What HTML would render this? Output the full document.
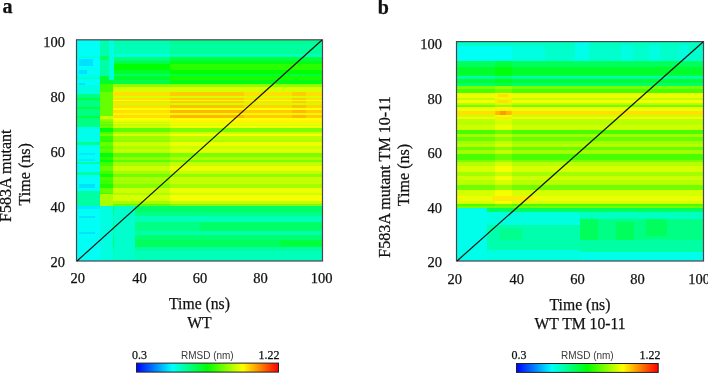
<!DOCTYPE html>
<html><head><meta charset="utf-8">
<style>
html,body{margin:0;padding:0;background:#fff;width:708px;height:374px;overflow:hidden;}
svg{display:block;}
.s{font-family:"Liberation Serif",serif;fill:#111;stroke:#111;stroke-width:0.25px;}
.txt{will-change:transform;}
.ss{font-family:"Liberation Sans",sans-serif;fill:#3a3a3a;}
</style></head><body>
<svg width="708" height="374" viewBox="0 0 708 374">
<defs>
<linearGradient id="cb" x1="0" x2="1" y1="0" y2="0"><stop offset="0.000" stop-color="#0000ff"/><stop offset="0.125" stop-color="#0080ff"/><stop offset="0.250" stop-color="#00ffff"/><stop offset="0.375" stop-color="#00ff80"/><stop offset="0.500" stop-color="#00ff00"/><stop offset="0.625" stop-color="#80ff00"/><stop offset="0.750" stop-color="#ffff00"/><stop offset="0.875" stop-color="#ff8000"/><stop offset="1.000" stop-color="#ff0000"/></linearGradient>
<filter id="bl" x="0" y="0" width="1" height="1"><feGaussianBlur stdDeviation="0.6"/></filter>
<clipPath id="cl"><rect x="77" y="40" width="245" height="221"/></clipPath>
<clipPath id="cr"><rect x="457" y="42" width="246" height="219"/></clipPath>
</defs>
<g clip-path="url(#cl)"><g filter="url(#bl)" shape-rendering="crispEdges">
<rect x="77" y="40" width="23" height="4" fill="#00fff5"/>
<rect x="100" y="40" width="9" height="4" fill="#00ffad"/>
<rect x="109" y="40" width="5" height="4" fill="#00ffe0"/>
<rect x="114" y="40" width="56" height="4" fill="#00ffad"/>
<rect x="170" y="40" width="152" height="4" fill="#00ff8f"/>
<rect x="77" y="44" width="23" height="5" fill="#00fff5"/>
<rect x="100" y="44" width="9" height="5" fill="#00ffad"/>
<rect x="109" y="44" width="5" height="5" fill="#00ffe0"/>
<rect x="114" y="44" width="56" height="5" fill="#00ffb8"/>
<rect x="170" y="44" width="152" height="5" fill="#00ffa3"/>
<rect x="77" y="49" width="23" height="5" fill="#00fff5"/>
<rect x="100" y="49" width="9" height="5" fill="#00ffad"/>
<rect x="109" y="49" width="5" height="5" fill="#00ffe0"/>
<rect x="114" y="49" width="56" height="5" fill="#00ffb8"/>
<rect x="170" y="49" width="152" height="5" fill="#00ff99"/>
<rect x="77" y="54" width="23" height="2" fill="#00fff5"/>
<rect x="100" y="54" width="9" height="2" fill="#00ffad"/>
<rect x="109" y="54" width="61" height="2" fill="#00ffe0"/>
<rect x="170" y="54" width="152" height="2" fill="#00ffc2"/>
<rect x="77" y="56" width="23" height="1" fill="#00fff5"/>
<rect x="100" y="56" width="9" height="1" fill="#00ff66"/>
<rect x="109" y="56" width="61" height="1" fill="#00ffe0"/>
<rect x="170" y="56" width="152" height="1" fill="#00ffc2"/>
<rect x="77" y="57" width="23" height="1" fill="#00ffcc"/>
<rect x="100" y="57" width="9" height="1" fill="#00ff66"/>
<rect x="109" y="57" width="5" height="1" fill="#00ffe0"/>
<rect x="114" y="57" width="56" height="1" fill="#00ff7a"/>
<rect x="170" y="57" width="152" height="1" fill="#00ff3d"/>
<rect x="77" y="58" width="23" height="1" fill="#00ffff"/>
<rect x="100" y="58" width="9" height="1" fill="#00ff66"/>
<rect x="109" y="58" width="5" height="1" fill="#00ffe0"/>
<rect x="114" y="58" width="56" height="1" fill="#00ff7a"/>
<rect x="170" y="58" width="152" height="1" fill="#00ff3d"/>
<rect x="77" y="59" width="2" height="1" fill="#00ffff"/>
<rect x="79" y="59" width="14" height="1" fill="#00e0ff"/>
<rect x="93" y="59" width="7" height="1" fill="#00ffff"/>
<rect x="100" y="59" width="9" height="1" fill="#00ff66"/>
<rect x="109" y="59" width="5" height="1" fill="#00ffe0"/>
<rect x="114" y="59" width="56" height="1" fill="#00ff7a"/>
<rect x="170" y="59" width="152" height="1" fill="#00ff3d"/>
<rect x="77" y="60" width="2" height="1" fill="#00ffff"/>
<rect x="79" y="60" width="14" height="1" fill="#00e0ff"/>
<rect x="93" y="60" width="7" height="1" fill="#00ffff"/>
<rect x="100" y="60" width="9" height="1" fill="#00ffa3"/>
<rect x="109" y="60" width="5" height="1" fill="#00ffe0"/>
<rect x="114" y="60" width="56" height="1" fill="#00ff7a"/>
<rect x="170" y="60" width="152" height="1" fill="#00ff3d"/>
<rect x="77" y="61" width="2" height="3" fill="#00ffff"/>
<rect x="79" y="61" width="14" height="3" fill="#00e0ff"/>
<rect x="93" y="61" width="7" height="3" fill="#00ffff"/>
<rect x="100" y="61" width="9" height="3" fill="#00ffa3"/>
<rect x="109" y="61" width="5" height="3" fill="#00ffe0"/>
<rect x="114" y="61" width="56" height="3" fill="#00ff47"/>
<rect x="170" y="61" width="152" height="3" fill="#00ff14"/>
<rect x="77" y="64" width="2" height="2" fill="#00ffff"/>
<rect x="79" y="64" width="14" height="2" fill="#00e0ff"/>
<rect x="93" y="64" width="7" height="2" fill="#00ffff"/>
<rect x="100" y="64" width="9" height="2" fill="#00ffa3"/>
<rect x="109" y="64" width="5" height="2" fill="#00ffe0"/>
<rect x="114" y="64" width="56" height="2" fill="#00ff00"/>
<rect x="170" y="64" width="152" height="2" fill="#29ff00"/>
<rect x="77" y="66" width="23" height="1" fill="#00ffff"/>
<rect x="100" y="66" width="9" height="1" fill="#00ffa3"/>
<rect x="109" y="66" width="5" height="1" fill="#00ffe0"/>
<rect x="114" y="66" width="56" height="1" fill="#00ff00"/>
<rect x="170" y="66" width="152" height="1" fill="#29ff00"/>
<rect x="77" y="67" width="23" height="3" fill="#00fff5"/>
<rect x="100" y="67" width="9" height="3" fill="#00ffa3"/>
<rect x="109" y="67" width="5" height="3" fill="#00ffe0"/>
<rect x="114" y="67" width="56" height="3" fill="#00ff00"/>
<rect x="170" y="67" width="152" height="3" fill="#29ff00"/>
<rect x="77" y="70" width="2" height="4" fill="#00fff5"/>
<rect x="79" y="70" width="8" height="4" fill="#00e0ff"/>
<rect x="87" y="70" width="13" height="4" fill="#00fff5"/>
<rect x="100" y="70" width="9" height="4" fill="#00ffa3"/>
<rect x="109" y="70" width="5" height="4" fill="#00ffe0"/>
<rect x="114" y="70" width="56" height="4" fill="#00ff29"/>
<rect x="170" y="70" width="152" height="4" fill="#00ff00"/>
<rect x="77" y="74" width="23" height="2" fill="#00ffeb"/>
<rect x="100" y="74" width="9" height="2" fill="#00ffa3"/>
<rect x="109" y="74" width="5" height="2" fill="#00ffe0"/>
<rect x="114" y="74" width="56" height="2" fill="#00ff66"/>
<rect x="170" y="74" width="152" height="2" fill="#00ff3d"/>
<rect x="77" y="76" width="23" height="2" fill="#00ffeb"/>
<rect x="100" y="76" width="9" height="2" fill="#00ff29"/>
<rect x="109" y="76" width="5" height="2" fill="#00ffe0"/>
<rect x="114" y="76" width="56" height="2" fill="#00ff29"/>
<rect x="170" y="76" width="152" height="2" fill="#14ff00"/>
<rect x="77" y="78" width="23" height="1" fill="#00ffb8"/>
<rect x="100" y="78" width="9" height="1" fill="#00ff29"/>
<rect x="109" y="78" width="5" height="1" fill="#00ffe0"/>
<rect x="114" y="78" width="56" height="1" fill="#00ff29"/>
<rect x="170" y="78" width="152" height="1" fill="#14ff00"/>
<rect x="77" y="79" width="23" height="1" fill="#00fff5"/>
<rect x="100" y="79" width="9" height="1" fill="#00ff29"/>
<rect x="109" y="79" width="5" height="1" fill="#00ffe0"/>
<rect x="114" y="79" width="56" height="1" fill="#00ff29"/>
<rect x="170" y="79" width="152" height="1" fill="#14ff00"/>
<rect x="77" y="80" width="23" height="3" fill="#00fff5"/>
<rect x="100" y="80" width="13" height="3" fill="#00ff29"/>
<rect x="113" y="80" width="57" height="3" fill="#00ff47"/>
<rect x="170" y="80" width="152" height="3" fill="#00ff14"/>
<rect x="77" y="83" width="2" height="1" fill="#00fff5"/>
<rect x="79" y="83" width="6" height="1" fill="#00e0ff"/>
<rect x="85" y="83" width="15" height="1" fill="#00fff5"/>
<rect x="100" y="83" width="13" height="1" fill="#00ff29"/>
<rect x="113" y="83" width="57" height="1" fill="#00ff47"/>
<rect x="170" y="83" width="152" height="1" fill="#00ff14"/>
<rect x="77" y="84" width="2" height="1" fill="#00fff5"/>
<rect x="79" y="84" width="6" height="1" fill="#00e0ff"/>
<rect x="85" y="84" width="15" height="1" fill="#00fff5"/>
<rect x="100" y="84" width="13" height="1" fill="#3dff00"/>
<rect x="113" y="84" width="209" height="1" fill="#8fff00"/>
<rect x="77" y="85" width="23" height="2" fill="#00ffe0"/>
<rect x="100" y="85" width="13" height="2" fill="#3dff00"/>
<rect x="113" y="85" width="209" height="2" fill="#8fff00"/>
<rect x="77" y="87" width="23" height="5" fill="#00ffe0"/>
<rect x="100" y="87" width="13" height="5" fill="#3dff00"/>
<rect x="113" y="87" width="209" height="5" fill="#d6ff00"/>
<rect x="77" y="92" width="23" height="2" fill="#00ffe0"/>
<rect x="100" y="92" width="13" height="2" fill="#66ff00"/>
<rect x="113" y="92" width="57" height="2" fill="#ffe000"/>
<rect x="170" y="92" width="74" height="2" fill="#ffcc00"/>
<rect x="244" y="92" width="48" height="2" fill="#ffe000"/>
<rect x="292" y="92" width="14" height="2" fill="#ffcc00"/>
<rect x="306" y="92" width="16" height="2" fill="#ffe000"/>
<rect x="77" y="94" width="23" height="2" fill="#00ff85"/>
<rect x="100" y="94" width="13" height="2" fill="#66ff00"/>
<rect x="113" y="94" width="57" height="2" fill="#ffe000"/>
<rect x="170" y="94" width="74" height="2" fill="#ffcc00"/>
<rect x="244" y="94" width="48" height="2" fill="#ffe000"/>
<rect x="292" y="94" width="14" height="2" fill="#ffcc00"/>
<rect x="306" y="94" width="16" height="2" fill="#ffe000"/>
<rect x="77" y="96" width="23" height="2" fill="#00ff85"/>
<rect x="100" y="96" width="13" height="2" fill="#66ff00"/>
<rect x="113" y="96" width="209" height="2" fill="#d6ff00"/>
<rect x="77" y="98" width="23" height="2" fill="#00ff3d"/>
<rect x="100" y="98" width="13" height="2" fill="#66ff00"/>
<rect x="113" y="98" width="57" height="2" fill="#ffe000"/>
<rect x="170" y="98" width="74" height="2" fill="#ffcc00"/>
<rect x="244" y="98" width="48" height="2" fill="#ffe000"/>
<rect x="292" y="98" width="14" height="2" fill="#ffcc00"/>
<rect x="306" y="98" width="16" height="2" fill="#ffe000"/>
<rect x="77" y="100" width="23" height="1" fill="#00ff85"/>
<rect x="100" y="100" width="13" height="1" fill="#66ff00"/>
<rect x="113" y="100" width="209" height="1" fill="#ffff00"/>
<rect x="77" y="101" width="23" height="2" fill="#00ff85"/>
<rect x="100" y="101" width="13" height="2" fill="#66ff00"/>
<rect x="113" y="101" width="57" height="2" fill="#ffe000"/>
<rect x="170" y="101" width="74" height="2" fill="#ffcc00"/>
<rect x="244" y="101" width="48" height="2" fill="#ffe000"/>
<rect x="292" y="101" width="14" height="2" fill="#ffcc00"/>
<rect x="306" y="101" width="16" height="2" fill="#ffe000"/>
<rect x="77" y="103" width="23" height="2" fill="#00ff85"/>
<rect x="100" y="103" width="13" height="2" fill="#66ff00"/>
<rect x="113" y="103" width="209" height="2" fill="#ccff00"/>
<rect x="77" y="105" width="23" height="2" fill="#00ff85"/>
<rect x="100" y="105" width="13" height="2" fill="#66ff00"/>
<rect x="113" y="105" width="57" height="2" fill="#ffe000"/>
<rect x="170" y="105" width="74" height="2" fill="#ffc200"/>
<rect x="244" y="105" width="48" height="2" fill="#ffd600"/>
<rect x="292" y="105" width="14" height="2" fill="#ffc200"/>
<rect x="306" y="105" width="16" height="2" fill="#ffd600"/>
<rect x="77" y="107" width="23" height="1" fill="#00ff3d"/>
<rect x="100" y="107" width="13" height="1" fill="#66ff00"/>
<rect x="113" y="107" width="57" height="1" fill="#ffe000"/>
<rect x="170" y="107" width="74" height="1" fill="#ffc200"/>
<rect x="244" y="107" width="48" height="1" fill="#ffd600"/>
<rect x="292" y="107" width="14" height="1" fill="#ffc200"/>
<rect x="306" y="107" width="16" height="1" fill="#ffd600"/>
<rect x="77" y="108" width="23" height="1" fill="#00ff3d"/>
<rect x="100" y="108" width="13" height="1" fill="#66ff00"/>
<rect x="113" y="108" width="209" height="1" fill="#ffff00"/>
<rect x="77" y="109" width="23" height="1" fill="#00ff85"/>
<rect x="100" y="109" width="13" height="1" fill="#66ff00"/>
<rect x="113" y="109" width="209" height="1" fill="#ffff00"/>
<rect x="77" y="110" width="23" height="3" fill="#00ff85"/>
<rect x="100" y="110" width="13" height="3" fill="#66ff00"/>
<rect x="113" y="110" width="57" height="3" fill="#ffe000"/>
<rect x="170" y="110" width="74" height="3" fill="#ffb800"/>
<rect x="244" y="110" width="48" height="3" fill="#ffcc00"/>
<rect x="292" y="110" width="14" height="3" fill="#ffb800"/>
<rect x="306" y="110" width="16" height="3" fill="#ffcc00"/>
<rect x="77" y="113" width="23" height="2" fill="#00ff85"/>
<rect x="100" y="113" width="13" height="2" fill="#66ff00"/>
<rect x="113" y="113" width="209" height="2" fill="#fff500"/>
<rect x="77" y="115" width="23" height="1" fill="#00ff85"/>
<rect x="100" y="115" width="13" height="1" fill="#66ff00"/>
<rect x="113" y="115" width="57" height="1" fill="#ffe000"/>
<rect x="170" y="115" width="74" height="1" fill="#ffb800"/>
<rect x="244" y="115" width="48" height="1" fill="#ffcc00"/>
<rect x="292" y="115" width="14" height="1" fill="#ffb800"/>
<rect x="306" y="115" width="16" height="1" fill="#ffcc00"/>
<rect x="77" y="116" width="23" height="2" fill="#00ff3d"/>
<rect x="100" y="116" width="13" height="2" fill="#ccff00"/>
<rect x="113" y="116" width="57" height="2" fill="#ffe000"/>
<rect x="170" y="116" width="74" height="2" fill="#ffb800"/>
<rect x="244" y="116" width="48" height="2" fill="#ffcc00"/>
<rect x="292" y="116" width="14" height="2" fill="#ffb800"/>
<rect x="306" y="116" width="16" height="2" fill="#ffcc00"/>
<rect x="77" y="118" width="23" height="1" fill="#00ff85"/>
<rect x="100" y="118" width="13" height="1" fill="#ccff00"/>
<rect x="113" y="118" width="209" height="1" fill="#ffff00"/>
<rect x="77" y="119" width="23" height="1" fill="#00ff85"/>
<rect x="100" y="119" width="13" height="1" fill="#99ff00"/>
<rect x="113" y="119" width="209" height="1" fill="#ffff00"/>
<rect x="77" y="120" width="23" height="2" fill="#00ff85"/>
<rect x="100" y="120" width="13" height="2" fill="#85ff00"/>
<rect x="113" y="120" width="57" height="2" fill="#ebff00"/>
<rect x="170" y="120" width="152" height="2" fill="#fff500"/>
<rect x="77" y="122" width="23" height="1" fill="#00ff85"/>
<rect x="100" y="122" width="13" height="1" fill="#5cff00"/>
<rect x="113" y="122" width="57" height="1" fill="#c2ff00"/>
<rect x="170" y="122" width="152" height="1" fill="#e0ff00"/>
<rect x="77" y="123" width="23" height="1" fill="#00ff85"/>
<rect x="100" y="123" width="13" height="1" fill="#85ff00"/>
<rect x="113" y="123" width="57" height="1" fill="#ebff00"/>
<rect x="170" y="123" width="152" height="1" fill="#fff500"/>
<rect x="77" y="124" width="23" height="2" fill="#00ff85"/>
<rect x="100" y="124" width="13" height="2" fill="#5cff00"/>
<rect x="113" y="124" width="57" height="2" fill="#c2ff00"/>
<rect x="170" y="124" width="152" height="2" fill="#e0ff00"/>
<rect x="77" y="126" width="23" height="1" fill="#00ff85"/>
<rect x="100" y="126" width="13" height="1" fill="#70ff00"/>
<rect x="113" y="126" width="57" height="1" fill="#d6ff00"/>
<rect x="170" y="126" width="152" height="1" fill="#f5ff00"/>
<rect x="77" y="127" width="23" height="1" fill="#00ffeb"/>
<rect x="100" y="127" width="13" height="1" fill="#70ff00"/>
<rect x="113" y="127" width="57" height="1" fill="#d6ff00"/>
<rect x="170" y="127" width="152" height="1" fill="#f5ff00"/>
<rect x="77" y="128" width="23" height="4" fill="#00ffeb"/>
<rect x="100" y="128" width="13" height="4" fill="#00ff0a"/>
<rect x="113" y="128" width="57" height="4" fill="#5cff00"/>
<rect x="170" y="128" width="152" height="4" fill="#7aff00"/>
<rect x="77" y="132" width="23" height="2" fill="#00ffeb"/>
<rect x="100" y="132" width="13" height="2" fill="#47ff00"/>
<rect x="113" y="132" width="57" height="2" fill="#adff00"/>
<rect x="170" y="132" width="152" height="2" fill="#ccff00"/>
<rect x="77" y="134" width="23" height="2" fill="#00ffeb"/>
<rect x="100" y="134" width="13" height="2" fill="#70ff00"/>
<rect x="113" y="134" width="57" height="2" fill="#d6ff00"/>
<rect x="170" y="134" width="152" height="2" fill="#f5ff00"/>
<rect x="77" y="136" width="23" height="4" fill="#00ffeb"/>
<rect x="100" y="136" width="13" height="4" fill="#33ff00"/>
<rect x="113" y="136" width="57" height="4" fill="#99ff00"/>
<rect x="170" y="136" width="152" height="4" fill="#b8ff00"/>
<rect x="77" y="140" width="23" height="2" fill="#00ffeb"/>
<rect x="100" y="140" width="13" height="2" fill="#29ff00"/>
<rect x="113" y="140" width="57" height="2" fill="#8fff00"/>
<rect x="170" y="140" width="152" height="2" fill="#adff00"/>
<rect x="77" y="142" width="23" height="3" fill="#00ff8f"/>
<rect x="100" y="142" width="13" height="3" fill="#66ff00"/>
<rect x="113" y="142" width="57" height="3" fill="#ccff00"/>
<rect x="170" y="142" width="152" height="3" fill="#ebff00"/>
<rect x="77" y="145" width="23" height="1" fill="#00fff5"/>
<rect x="100" y="145" width="13" height="1" fill="#66ff00"/>
<rect x="113" y="145" width="57" height="1" fill="#ccff00"/>
<rect x="170" y="145" width="152" height="1" fill="#ebff00"/>
<rect x="77" y="146" width="23" height="3" fill="#00fff5"/>
<rect x="100" y="146" width="13" height="3" fill="#47ff00"/>
<rect x="113" y="146" width="57" height="3" fill="#adff00"/>
<rect x="170" y="146" width="152" height="3" fill="#ccff00"/>
<rect x="77" y="149" width="23" height="4" fill="#00fff5"/>
<rect x="100" y="149" width="13" height="4" fill="#5cff00"/>
<rect x="113" y="149" width="57" height="4" fill="#c2ff00"/>
<rect x="170" y="149" width="152" height="4" fill="#e0ff00"/>
<rect x="77" y="153" width="2" height="2" fill="#00fff5"/>
<rect x="79" y="153" width="16" height="2" fill="#00ebff"/>
<rect x="95" y="153" width="5" height="2" fill="#00fff5"/>
<rect x="100" y="153" width="13" height="2" fill="#00ff0a"/>
<rect x="113" y="153" width="57" height="2" fill="#5cff00"/>
<rect x="170" y="153" width="152" height="2" fill="#7aff00"/>
<rect x="77" y="155" width="23" height="2" fill="#00fff5"/>
<rect x="100" y="155" width="13" height="2" fill="#00ff0a"/>
<rect x="113" y="155" width="57" height="2" fill="#5cff00"/>
<rect x="170" y="155" width="152" height="2" fill="#7aff00"/>
<rect x="77" y="157" width="23" height="2" fill="#00fff5"/>
<rect x="100" y="157" width="13" height="2" fill="#29ff00"/>
<rect x="113" y="157" width="57" height="2" fill="#8fff00"/>
<rect x="170" y="157" width="152" height="2" fill="#adff00"/>
<rect x="77" y="159" width="2" height="1" fill="#00fff5"/>
<rect x="79" y="159" width="16" height="1" fill="#00ebff"/>
<rect x="95" y="159" width="5" height="1" fill="#00fff5"/>
<rect x="100" y="159" width="13" height="1" fill="#29ff00"/>
<rect x="113" y="159" width="57" height="1" fill="#8fff00"/>
<rect x="170" y="159" width="152" height="1" fill="#adff00"/>
<rect x="77" y="160" width="2" height="1" fill="#00fff5"/>
<rect x="79" y="160" width="16" height="1" fill="#00ebff"/>
<rect x="95" y="160" width="5" height="1" fill="#00fff5"/>
<rect x="100" y="160" width="13" height="1" fill="#00ff0a"/>
<rect x="113" y="160" width="57" height="1" fill="#5cff00"/>
<rect x="170" y="160" width="152" height="1" fill="#7aff00"/>
<rect x="77" y="161" width="23" height="1" fill="#00fff5"/>
<rect x="100" y="161" width="13" height="1" fill="#00ff0a"/>
<rect x="113" y="161" width="57" height="1" fill="#5cff00"/>
<rect x="170" y="161" width="152" height="1" fill="#7aff00"/>
<rect x="77" y="162" width="23" height="2" fill="#00ffa3"/>
<rect x="100" y="162" width="13" height="2" fill="#3dff00"/>
<rect x="113" y="162" width="57" height="2" fill="#a3ff00"/>
<rect x="170" y="162" width="152" height="2" fill="#c2ff00"/>
<rect x="77" y="164" width="23" height="2" fill="#00fff5"/>
<rect x="100" y="164" width="13" height="2" fill="#3dff00"/>
<rect x="113" y="164" width="57" height="2" fill="#a3ff00"/>
<rect x="170" y="164" width="152" height="2" fill="#c2ff00"/>
<rect x="77" y="166" width="23" height="5" fill="#00fff5"/>
<rect x="100" y="166" width="13" height="5" fill="#66ff00"/>
<rect x="113" y="166" width="57" height="5" fill="#ccff00"/>
<rect x="170" y="166" width="152" height="5" fill="#ebff00"/>
<rect x="77" y="171" width="23" height="1" fill="#00fff5"/>
<rect x="100" y="171" width="13" height="1" fill="#3dff00"/>
<rect x="113" y="171" width="57" height="1" fill="#a3ff00"/>
<rect x="170" y="171" width="152" height="1" fill="#c2ff00"/>
<rect x="77" y="172" width="23" height="2" fill="#00ffa3"/>
<rect x="100" y="172" width="13" height="2" fill="#3dff00"/>
<rect x="113" y="172" width="57" height="2" fill="#a3ff00"/>
<rect x="170" y="172" width="152" height="2" fill="#c2ff00"/>
<rect x="77" y="174" width="23" height="1" fill="#00ffa3"/>
<rect x="100" y="174" width="13" height="1" fill="#0aff00"/>
<rect x="113" y="174" width="57" height="1" fill="#70ff00"/>
<rect x="170" y="174" width="152" height="1" fill="#8fff00"/>
<rect x="77" y="175" width="23" height="2" fill="#00fff5"/>
<rect x="100" y="175" width="13" height="2" fill="#0aff00"/>
<rect x="113" y="175" width="57" height="2" fill="#70ff00"/>
<rect x="170" y="175" width="152" height="2" fill="#8fff00"/>
<rect x="77" y="177" width="23" height="3" fill="#00fff5"/>
<rect x="100" y="177" width="13" height="3" fill="#47ff00"/>
<rect x="113" y="177" width="57" height="3" fill="#adff00"/>
<rect x="170" y="177" width="152" height="3" fill="#ccff00"/>
<rect x="77" y="180" width="23" height="4" fill="#00fff5"/>
<rect x="100" y="180" width="13" height="4" fill="#3dff00"/>
<rect x="113" y="180" width="57" height="4" fill="#a3ff00"/>
<rect x="170" y="180" width="152" height="4" fill="#c2ff00"/>
<rect x="77" y="184" width="2" height="4" fill="#00fff5"/>
<rect x="79" y="184" width="16" height="4" fill="#00e0ff"/>
<rect x="95" y="184" width="5" height="4" fill="#00fff5"/>
<rect x="100" y="184" width="13" height="4" fill="#1fff00"/>
<rect x="113" y="184" width="57" height="4" fill="#85ff00"/>
<rect x="170" y="184" width="152" height="4" fill="#a3ff00"/>
<rect x="77" y="188" width="23" height="3" fill="#00fff5"/>
<rect x="100" y="188" width="13" height="3" fill="#66ff00"/>
<rect x="113" y="188" width="57" height="3" fill="#ccff00"/>
<rect x="170" y="188" width="152" height="3" fill="#ebff00"/>
<rect x="77" y="191" width="23" height="2" fill="#00ffa3"/>
<rect x="100" y="191" width="13" height="2" fill="#66ff00"/>
<rect x="113" y="191" width="57" height="2" fill="#ccff00"/>
<rect x="170" y="191" width="152" height="2" fill="#ebff00"/>
<rect x="77" y="193" width="23" height="1" fill="#00ffa3"/>
<rect x="100" y="193" width="13" height="1" fill="#47ff00"/>
<rect x="113" y="193" width="57" height="1" fill="#adff00"/>
<rect x="170" y="193" width="152" height="1" fill="#ccff00"/>
<rect x="77" y="194" width="23" height="1" fill="#00ffa3"/>
<rect x="100" y="194" width="70" height="1" fill="#adff00"/>
<rect x="170" y="194" width="152" height="1" fill="#ccff00"/>
<rect x="77" y="195" width="23" height="6" fill="#00ffa3"/>
<rect x="100" y="195" width="13" height="6" fill="#adff00"/>
<rect x="113" y="195" width="57" height="6" fill="#d6ff00"/>
<rect x="170" y="195" width="152" height="6" fill="#f5ff00"/>
<rect x="77" y="201" width="23" height="3" fill="#00ffa3"/>
<rect x="100" y="201" width="13" height="3" fill="#adff00"/>
<rect x="113" y="201" width="57" height="3" fill="#a3ff00"/>
<rect x="170" y="201" width="152" height="3" fill="#c2ff00"/>
<rect x="77" y="204" width="23" height="1" fill="#00ffa3"/>
<rect x="100" y="204" width="13" height="1" fill="#adff00"/>
<rect x="113" y="204" width="57" height="1" fill="#52ff00"/>
<rect x="170" y="204" width="152" height="1" fill="#70ff00"/>
<rect x="77" y="205" width="23" height="1" fill="#00ffa3"/>
<rect x="100" y="205" width="13" height="1" fill="#adff00"/>
<rect x="113" y="205" width="57" height="1" fill="#7aff00"/>
<rect x="170" y="205" width="152" height="1" fill="#99ff00"/>
<rect x="77" y="206" width="23" height="3" fill="#00ebff"/>
<rect x="100" y="206" width="13" height="3" fill="#00ffe0"/>
<rect x="113" y="206" width="1" height="3" fill="#00ff66"/>
<rect x="114" y="206" width="21" height="3" fill="#00ffcc"/>
<rect x="135" y="206" width="187" height="3" fill="#00ff66"/>
<rect x="77" y="209" width="23" height="3" fill="#00fff5"/>
<rect x="100" y="209" width="13" height="3" fill="#00ffe0"/>
<rect x="113" y="209" width="1" height="3" fill="#00ff66"/>
<rect x="114" y="209" width="21" height="3" fill="#00ffcc"/>
<rect x="135" y="209" width="187" height="3" fill="#00ff66"/>
<rect x="77" y="212" width="23" height="4" fill="#00fff5"/>
<rect x="100" y="212" width="13" height="4" fill="#00ffe0"/>
<rect x="113" y="212" width="1" height="4" fill="#00ff85"/>
<rect x="114" y="212" width="21" height="4" fill="#00ffcc"/>
<rect x="135" y="212" width="187" height="4" fill="#00ff85"/>
<rect x="77" y="216" width="2" height="2" fill="#00fff5"/>
<rect x="79" y="216" width="16" height="2" fill="#00e0ff"/>
<rect x="95" y="216" width="5" height="2" fill="#00fff5"/>
<rect x="100" y="216" width="13" height="2" fill="#00ffe0"/>
<rect x="113" y="216" width="1" height="2" fill="#00ffb8"/>
<rect x="114" y="216" width="21" height="2" fill="#00ffcc"/>
<rect x="135" y="216" width="187" height="2" fill="#00ffb8"/>
<rect x="77" y="218" width="23" height="4" fill="#00fff5"/>
<rect x="100" y="218" width="13" height="4" fill="#00ffe0"/>
<rect x="113" y="218" width="1" height="4" fill="#00ffb8"/>
<rect x="114" y="218" width="21" height="4" fill="#00ffcc"/>
<rect x="135" y="218" width="187" height="4" fill="#00ffb8"/>
<rect x="77" y="222" width="23" height="9" fill="#00fff5"/>
<rect x="100" y="222" width="13" height="9" fill="#00ffe0"/>
<rect x="113" y="222" width="1" height="9" fill="#00ff85"/>
<rect x="114" y="222" width="21" height="9" fill="#00ffcc"/>
<rect x="135" y="222" width="65" height="9" fill="#00ff85"/>
<rect x="200" y="222" width="122" height="9" fill="#00ff66"/>
<rect x="77" y="231" width="23" height="1" fill="#00fff5"/>
<rect x="100" y="231" width="13" height="1" fill="#00ffe0"/>
<rect x="113" y="231" width="1" height="1" fill="#00ffad"/>
<rect x="114" y="231" width="21" height="1" fill="#00ffcc"/>
<rect x="135" y="231" width="187" height="1" fill="#00ffad"/>
<rect x="77" y="232" width="2" height="2" fill="#00fff5"/>
<rect x="79" y="232" width="16" height="2" fill="#00e0ff"/>
<rect x="95" y="232" width="5" height="2" fill="#00fff5"/>
<rect x="100" y="232" width="13" height="2" fill="#00ffe0"/>
<rect x="113" y="232" width="1" height="2" fill="#00ffad"/>
<rect x="114" y="232" width="21" height="2" fill="#00ffcc"/>
<rect x="135" y="232" width="187" height="2" fill="#00ffad"/>
<rect x="77" y="234" width="23" height="1" fill="#00fff5"/>
<rect x="100" y="234" width="13" height="1" fill="#00ffe0"/>
<rect x="113" y="234" width="1" height="1" fill="#00ffad"/>
<rect x="114" y="234" width="21" height="1" fill="#00ffcc"/>
<rect x="135" y="234" width="187" height="1" fill="#00ffad"/>
<rect x="77" y="235" width="23" height="5" fill="#00fff5"/>
<rect x="100" y="235" width="13" height="5" fill="#00ffe0"/>
<rect x="113" y="235" width="1" height="5" fill="#00ff70"/>
<rect x="114" y="235" width="21" height="5" fill="#00ffcc"/>
<rect x="135" y="235" width="187" height="5" fill="#00ff70"/>
<rect x="77" y="240" width="23" height="7" fill="#00fff5"/>
<rect x="100" y="240" width="13" height="7" fill="#00ffe0"/>
<rect x="113" y="240" width="1" height="7" fill="#00ff5c"/>
<rect x="114" y="240" width="21" height="7" fill="#00ffcc"/>
<rect x="135" y="240" width="145" height="7" fill="#00ff5c"/>
<rect x="280" y="240" width="42" height="7" fill="#00ff3d"/>
<rect x="77" y="247" width="23" height="4" fill="#00fff5"/>
<rect x="100" y="247" width="13" height="4" fill="#00ffe0"/>
<rect x="113" y="247" width="1" height="4" fill="#00ffa3"/>
<rect x="114" y="247" width="21" height="4" fill="#00ffcc"/>
<rect x="135" y="247" width="187" height="4" fill="#00ffa3"/>
<rect x="77" y="251" width="23" height="10" fill="#00fff5"/>
<rect x="100" y="251" width="13" height="10" fill="#00ffe0"/>
<rect x="113" y="251" width="1" height="10" fill="#00ffb8"/>
<rect x="114" y="251" width="21" height="10" fill="#00ffcc"/>
<rect x="135" y="251" width="187" height="10" fill="#00ffb8"/>
</g></g>
<g clip-path="url(#cr)"><g filter="url(#bl)" shape-rendering="crispEdges">
<rect x="457" y="42" width="118" height="3" fill="#00ffc2"/>
<rect x="575" y="42" width="14" height="3" fill="#00ffeb"/>
<rect x="589" y="42" width="114" height="3" fill="#00ffc2"/>
<rect x="457" y="45" width="118" height="1" fill="#00ffc2"/>
<rect x="575" y="45" width="14" height="1" fill="#00ffeb"/>
<rect x="589" y="45" width="32" height="1" fill="#00ffc2"/>
<rect x="621" y="45" width="12" height="1" fill="#00ffe0"/>
<rect x="633" y="45" width="16" height="1" fill="#00ffc2"/>
<rect x="649" y="45" width="11" height="1" fill="#00ffe0"/>
<rect x="660" y="45" width="19" height="1" fill="#00ffc2"/>
<rect x="679" y="45" width="9" height="1" fill="#00ffe0"/>
<rect x="688" y="45" width="15" height="1" fill="#00ffc2"/>
<rect x="457" y="46" width="55" height="3" fill="#00fff5"/>
<rect x="512" y="46" width="33" height="3" fill="#00ffe0"/>
<rect x="545" y="46" width="30" height="3" fill="#00ffc2"/>
<rect x="575" y="46" width="14" height="3" fill="#00ffeb"/>
<rect x="589" y="46" width="32" height="3" fill="#00ffc2"/>
<rect x="621" y="46" width="12" height="3" fill="#00ffe0"/>
<rect x="633" y="46" width="16" height="3" fill="#00ffc2"/>
<rect x="649" y="46" width="11" height="3" fill="#00ffe0"/>
<rect x="660" y="46" width="19" height="3" fill="#00ffc2"/>
<rect x="679" y="46" width="9" height="3" fill="#00ffe0"/>
<rect x="688" y="46" width="15" height="3" fill="#00ffc2"/>
<rect x="457" y="49" width="55" height="12" fill="#00fff5"/>
<rect x="512" y="49" width="33" height="12" fill="#00ffe0"/>
<rect x="545" y="49" width="30" height="12" fill="#00ffcc"/>
<rect x="575" y="49" width="14" height="12" fill="#00ffeb"/>
<rect x="589" y="49" width="32" height="12" fill="#00ffcc"/>
<rect x="621" y="49" width="12" height="12" fill="#00ffe0"/>
<rect x="633" y="49" width="16" height="12" fill="#00ffcc"/>
<rect x="649" y="49" width="11" height="12" fill="#00ffe0"/>
<rect x="660" y="49" width="19" height="12" fill="#00ffcc"/>
<rect x="679" y="49" width="9" height="12" fill="#00ffe0"/>
<rect x="688" y="49" width="15" height="12" fill="#00ffcc"/>
<rect x="457" y="61" width="38" height="6" fill="#00ff5c"/>
<rect x="495" y="61" width="17" height="6" fill="#00ff3d"/>
<rect x="512" y="61" width="191" height="6" fill="#00ff5c"/>
<rect x="457" y="67" width="38" height="7" fill="#00ff29"/>
<rect x="495" y="67" width="17" height="7" fill="#00ff0a"/>
<rect x="512" y="67" width="191" height="7" fill="#00ff29"/>
<rect x="457" y="74" width="38" height="2" fill="#00ff3d"/>
<rect x="495" y="74" width="17" height="2" fill="#00ff1f"/>
<rect x="512" y="74" width="191" height="2" fill="#00ff3d"/>
<rect x="457" y="76" width="38" height="3" fill="#00ffa3"/>
<rect x="495" y="76" width="17" height="3" fill="#00ff85"/>
<rect x="512" y="76" width="191" height="3" fill="#00ffa3"/>
<rect x="457" y="79" width="38" height="4" fill="#00ff33"/>
<rect x="495" y="79" width="17" height="4" fill="#00ff14"/>
<rect x="512" y="79" width="191" height="4" fill="#00ff33"/>
<rect x="457" y="83" width="38" height="3" fill="#00ff70"/>
<rect x="495" y="83" width="17" height="3" fill="#00ff52"/>
<rect x="512" y="83" width="191" height="3" fill="#00ff70"/>
<rect x="457" y="86" width="38" height="3" fill="#7aff00"/>
<rect x="495" y="86" width="17" height="3" fill="#99ff00"/>
<rect x="512" y="86" width="191" height="3" fill="#7aff00"/>
<rect x="457" y="89" width="38" height="4" fill="#47ff00"/>
<rect x="495" y="89" width="17" height="4" fill="#66ff00"/>
<rect x="512" y="89" width="191" height="4" fill="#47ff00"/>
<rect x="457" y="93" width="38" height="1" fill="#ebff00"/>
<rect x="495" y="93" width="17" height="1" fill="#fff500"/>
<rect x="512" y="93" width="191" height="1" fill="#ebff00"/>
<rect x="457" y="94" width="38" height="3" fill="#ebff00"/>
<rect x="495" y="94" width="3" height="3" fill="#fff500"/>
<rect x="498" y="94" width="10" height="3" fill="#ffe000"/>
<rect x="508" y="94" width="4" height="3" fill="#fff500"/>
<rect x="512" y="94" width="191" height="3" fill="#ebff00"/>
<rect x="457" y="97" width="38" height="1" fill="#ebff00"/>
<rect x="495" y="97" width="17" height="1" fill="#fff500"/>
<rect x="512" y="97" width="191" height="1" fill="#ebff00"/>
<rect x="457" y="98" width="38" height="2" fill="#c2ff00"/>
<rect x="495" y="98" width="17" height="2" fill="#e0ff00"/>
<rect x="512" y="98" width="191" height="2" fill="#c2ff00"/>
<rect x="457" y="100" width="38" height="3" fill="#f5ff00"/>
<rect x="495" y="100" width="3" height="3" fill="#ffeb00"/>
<rect x="498" y="100" width="10" height="3" fill="#ffe000"/>
<rect x="508" y="100" width="4" height="3" fill="#ffeb00"/>
<rect x="512" y="100" width="191" height="3" fill="#f5ff00"/>
<rect x="457" y="103" width="38" height="2" fill="#b8ff00"/>
<rect x="495" y="103" width="17" height="2" fill="#d6ff00"/>
<rect x="512" y="103" width="191" height="2" fill="#b8ff00"/>
<rect x="457" y="105" width="38" height="2" fill="#70ff00"/>
<rect x="495" y="105" width="17" height="2" fill="#8fff00"/>
<rect x="512" y="105" width="191" height="2" fill="#70ff00"/>
<rect x="457" y="107" width="38" height="4" fill="#ebff00"/>
<rect x="495" y="107" width="17" height="4" fill="#fff500"/>
<rect x="512" y="107" width="191" height="4" fill="#ebff00"/>
<rect x="457" y="111" width="38" height="4" fill="#ffe000"/>
<rect x="495" y="111" width="1" height="4" fill="#ffc200"/>
<rect x="496" y="111" width="4" height="4" fill="#ffb800"/>
<rect x="500" y="111" width="6" height="4" fill="#ff9900"/>
<rect x="506" y="111" width="4" height="4" fill="#ffb800"/>
<rect x="510" y="111" width="2" height="4" fill="#ffc200"/>
<rect x="512" y="111" width="191" height="4" fill="#ffe000"/>
<rect x="457" y="115" width="38" height="2" fill="#ccff00"/>
<rect x="495" y="115" width="17" height="2" fill="#ebff00"/>
<rect x="512" y="115" width="191" height="2" fill="#ccff00"/>
<rect x="457" y="117" width="38" height="2" fill="#f5ff00"/>
<rect x="495" y="117" width="17" height="2" fill="#ffeb00"/>
<rect x="512" y="117" width="191" height="2" fill="#f5ff00"/>
<rect x="457" y="119" width="38" height="6" fill="#b8ff00"/>
<rect x="495" y="119" width="17" height="6" fill="#d6ff00"/>
<rect x="512" y="119" width="191" height="6" fill="#b8ff00"/>
<rect x="457" y="125" width="38" height="5" fill="#ccff00"/>
<rect x="495" y="125" width="17" height="5" fill="#ebff00"/>
<rect x="512" y="125" width="191" height="5" fill="#ccff00"/>
<rect x="457" y="130" width="38" height="4" fill="#47ff00"/>
<rect x="495" y="130" width="17" height="4" fill="#66ff00"/>
<rect x="512" y="130" width="191" height="4" fill="#47ff00"/>
<rect x="457" y="134" width="38" height="3" fill="#a3ff00"/>
<rect x="495" y="134" width="17" height="3" fill="#c2ff00"/>
<rect x="512" y="134" width="191" height="3" fill="#a3ff00"/>
<rect x="457" y="137" width="38" height="4" fill="#66ff00"/>
<rect x="495" y="137" width="17" height="4" fill="#85ff00"/>
<rect x="512" y="137" width="191" height="4" fill="#66ff00"/>
<rect x="457" y="141" width="38" height="3" fill="#a3ff00"/>
<rect x="495" y="141" width="17" height="3" fill="#c2ff00"/>
<rect x="512" y="141" width="191" height="3" fill="#a3ff00"/>
<rect x="457" y="144" width="38" height="3" fill="#b8ff00"/>
<rect x="495" y="144" width="17" height="3" fill="#d6ff00"/>
<rect x="512" y="144" width="191" height="3" fill="#b8ff00"/>
<rect x="457" y="147" width="38" height="3" fill="#66ff00"/>
<rect x="495" y="147" width="17" height="3" fill="#85ff00"/>
<rect x="512" y="147" width="191" height="3" fill="#66ff00"/>
<rect x="457" y="150" width="38" height="4" fill="#a3ff00"/>
<rect x="495" y="150" width="17" height="4" fill="#c2ff00"/>
<rect x="512" y="150" width="191" height="4" fill="#a3ff00"/>
<rect x="457" y="154" width="38" height="6" fill="#47ff00"/>
<rect x="495" y="154" width="17" height="6" fill="#66ff00"/>
<rect x="512" y="154" width="191" height="6" fill="#47ff00"/>
<rect x="457" y="160" width="38" height="2" fill="#7aff00"/>
<rect x="495" y="160" width="17" height="2" fill="#99ff00"/>
<rect x="512" y="160" width="191" height="2" fill="#7aff00"/>
<rect x="457" y="162" width="38" height="4" fill="#b8ff00"/>
<rect x="495" y="162" width="17" height="4" fill="#d6ff00"/>
<rect x="512" y="162" width="191" height="4" fill="#b8ff00"/>
<rect x="457" y="166" width="38" height="6" fill="#d6ff00"/>
<rect x="495" y="166" width="17" height="6" fill="#f5ff00"/>
<rect x="512" y="166" width="191" height="6" fill="#d6ff00"/>
<rect x="457" y="172" width="38" height="4" fill="#a3ff00"/>
<rect x="495" y="172" width="17" height="4" fill="#c2ff00"/>
<rect x="512" y="172" width="191" height="4" fill="#a3ff00"/>
<rect x="457" y="176" width="38" height="4" fill="#ccff00"/>
<rect x="495" y="176" width="17" height="4" fill="#f5ff00"/>
<rect x="512" y="176" width="191" height="4" fill="#ccff00"/>
<rect x="457" y="180" width="38" height="5" fill="#b8ff00"/>
<rect x="495" y="180" width="17" height="5" fill="#d6ff00"/>
<rect x="512" y="180" width="191" height="5" fill="#b8ff00"/>
<rect x="457" y="185" width="38" height="5" fill="#70ff00"/>
<rect x="495" y="185" width="17" height="5" fill="#8fff00"/>
<rect x="512" y="185" width="191" height="5" fill="#70ff00"/>
<rect x="457" y="190" width="38" height="6" fill="#d6ff00"/>
<rect x="495" y="190" width="17" height="6" fill="#f5ff00"/>
<rect x="512" y="190" width="191" height="6" fill="#d6ff00"/>
<rect x="457" y="196" width="35" height="5" fill="#ebff00"/>
<rect x="492" y="196" width="42" height="5" fill="#ffeb00"/>
<rect x="534" y="196" width="169" height="5" fill="#ebff00"/>
<rect x="457" y="201" width="38" height="3" fill="#d6ff00"/>
<rect x="495" y="201" width="17" height="3" fill="#f5ff00"/>
<rect x="512" y="201" width="191" height="3" fill="#d6ff00"/>
<rect x="457" y="204" width="38" height="2" fill="#47ff00"/>
<rect x="495" y="204" width="17" height="2" fill="#66ff00"/>
<rect x="512" y="204" width="191" height="2" fill="#47ff00"/>
<rect x="457" y="206" width="246" height="2" fill="#7aff00"/>
<rect x="457" y="208" width="30" height="4" fill="#00ffeb"/>
<rect x="487" y="208" width="216" height="4" fill="#00ff5c"/>
<rect x="457" y="212" width="30" height="7" fill="#00ffeb"/>
<rect x="487" y="212" width="93" height="7" fill="#00ffe0"/>
<rect x="580" y="212" width="123" height="7" fill="#00ffc2"/>
<rect x="457" y="219" width="30" height="3" fill="#00ffeb"/>
<rect x="487" y="219" width="93" height="3" fill="#00ffe0"/>
<rect x="580" y="219" width="18" height="3" fill="#00ff5c"/>
<rect x="598" y="219" width="48" height="3" fill="#00ff85"/>
<rect x="646" y="219" width="21" height="3" fill="#00ff5c"/>
<rect x="667" y="219" width="36" height="3" fill="#00ff85"/>
<rect x="457" y="222" width="30" height="3" fill="#00ffeb"/>
<rect x="487" y="222" width="93" height="3" fill="#00ffe0"/>
<rect x="580" y="222" width="18" height="3" fill="#00ff5c"/>
<rect x="598" y="222" width="18" height="3" fill="#00ff85"/>
<rect x="616" y="222" width="18" height="3" fill="#00ff5c"/>
<rect x="634" y="222" width="12" height="3" fill="#00ff85"/>
<rect x="646" y="222" width="21" height="3" fill="#00ff5c"/>
<rect x="667" y="222" width="36" height="3" fill="#00ff85"/>
<rect x="457" y="225" width="30" height="3" fill="#00ffeb"/>
<rect x="487" y="225" width="93" height="3" fill="#00ffad"/>
<rect x="580" y="225" width="18" height="3" fill="#00ff5c"/>
<rect x="598" y="225" width="18" height="3" fill="#00ff85"/>
<rect x="616" y="225" width="18" height="3" fill="#00ff5c"/>
<rect x="634" y="225" width="12" height="3" fill="#00ff85"/>
<rect x="646" y="225" width="21" height="3" fill="#00ff5c"/>
<rect x="667" y="225" width="36" height="3" fill="#00ff85"/>
<rect x="457" y="228" width="30" height="8" fill="#00ffeb"/>
<rect x="487" y="228" width="13" height="8" fill="#00ffad"/>
<rect x="500" y="228" width="22" height="8" fill="#00ff8f"/>
<rect x="522" y="228" width="58" height="8" fill="#00ffad"/>
<rect x="580" y="228" width="18" height="8" fill="#00ff5c"/>
<rect x="598" y="228" width="18" height="8" fill="#00ff85"/>
<rect x="616" y="228" width="18" height="8" fill="#00ff5c"/>
<rect x="634" y="228" width="12" height="8" fill="#00ff85"/>
<rect x="646" y="228" width="21" height="8" fill="#00ff5c"/>
<rect x="667" y="228" width="36" height="8" fill="#00ff85"/>
<rect x="457" y="236" width="30" height="4" fill="#00ffeb"/>
<rect x="487" y="236" width="13" height="4" fill="#00ffad"/>
<rect x="500" y="236" width="22" height="4" fill="#00ff8f"/>
<rect x="522" y="236" width="58" height="4" fill="#00ffad"/>
<rect x="580" y="236" width="18" height="4" fill="#00ff5c"/>
<rect x="598" y="236" width="18" height="4" fill="#00ff85"/>
<rect x="616" y="236" width="18" height="4" fill="#00ff5c"/>
<rect x="634" y="236" width="69" height="4" fill="#00ff85"/>
<rect x="457" y="240" width="30" height="10" fill="#00ffeb"/>
<rect x="487" y="240" width="93" height="10" fill="#00ffad"/>
<rect x="580" y="240" width="123" height="10" fill="#00ffa3"/>
<rect x="457" y="250" width="30" height="2" fill="#00ffeb"/>
<rect x="487" y="250" width="93" height="2" fill="#00ffe0"/>
<rect x="580" y="250" width="123" height="2" fill="#00ffa3"/>
<rect x="457" y="252" width="30" height="9" fill="#00ffeb"/>
<rect x="487" y="252" width="93" height="9" fill="#00ffe0"/>
<rect x="580" y="252" width="123" height="9" fill="#00ffeb"/>
</g></g>
<!-- borders -->
<rect x="76.5" y="39.8" width="246" height="221.2" fill="none" stroke="#4a4450" stroke-width="1.2"/>
<rect x="456.5" y="41.6" width="247" height="219.4" fill="none" stroke="#4a4450" stroke-width="1.2"/>
<!-- diagonals -->
<line x1="77" y1="261" x2="322" y2="40" stroke="#151510" stroke-width="1.2"/>
<line x1="457" y1="261" x2="703" y2="42" stroke="#151510" stroke-width="1.2"/>

<g class="txt">
<!-- panel letters -->
<text class="s" x="2.5" y="13.2" font-size="20" font-weight="bold">a</text>
<text class="s" x="377.8" y="13.6" font-size="20" font-weight="bold">b</text>

<!-- left y ticks -->
<g class="s" font-size="14.5" text-anchor="end">
<text x="65" y="47.1">100</text><text x="65" y="102">80</text><text x="65" y="156.7">60</text><text x="65" y="211.5">40</text><text x="65" y="267.2">20</text>
</g>
<!-- left x ticks -->
<g class="s" font-size="14.5" text-anchor="middle">
<text x="77.8" y="282.8">20</text><text x="139.6" y="282.8">40</text><text x="200" y="282.8">60</text><text x="260.5" y="282.8">80</text><text x="321.6" y="282.8">100</text>
</g>
<!-- right y ticks -->
<g class="s" font-size="14.5" text-anchor="end">
<text x="442" y="49.2">100</text><text x="442" y="103.7">80</text><text x="442" y="158.2">60</text><text x="442" y="212.7">40</text><text x="442" y="267.2">20</text>
</g>
<!-- right x ticks -->
<g class="s" font-size="14.5" text-anchor="middle">
<text x="454.7" y="284.1">20</text><text x="516.7" y="284.1">40</text><text x="577.5" y="284.1">60</text><text x="637.5" y="284.1">80</text><text x="699" y="284.1">100</text>
</g>
<!-- axis titles -->
<g class="s" font-size="15.7" text-anchor="middle">
<text x="199.5" y="309.2">Time (ns)</text><text x="199.5" y="327.9">WT</text>
<text x="580" y="310">Time (ns)</text><text x="580" y="329">WT TM 10-11</text>
<text font-size="16.1" transform="translate(11.2,175.7) rotate(-90)">F583A mutant</text>
<text font-size="16.1" transform="translate(29.7,174.3) rotate(-90)">Time (ns)</text>
<text font-size="16.1" transform="translate(390,177) rotate(-90)">F583A mutant TM 10-11</text>
<text font-size="16.1" transform="translate(408.5,175) rotate(-90)">Time (ns)</text>
</g>
<!-- colorbars -->
<rect x="136.5" y="363.1" width="142" height="9" fill="url(#cb)" stroke="#222" stroke-width="1"/>
<rect x="516.5" y="363.5" width="141.7" height="8.9" fill="url(#cb)" stroke="#222" stroke-width="1"/>
<g class="s" font-size="12">
<text x="132" y="358.6">0.3</text><text x="279.6" y="358.6" text-anchor="end">1.22</text>
<text x="511.5" y="359.2">0.3</text><text x="660.6" y="359.2" text-anchor="end">1.22</text>
</g>
<g class="ss" font-size="10" text-anchor="middle">
<text x="207.3" y="358.6">RMSD (nm)</text>
<text x="587.3" y="359.2">RMSD (nm)</text>
</g>
</g>
</svg>
</body></html>
